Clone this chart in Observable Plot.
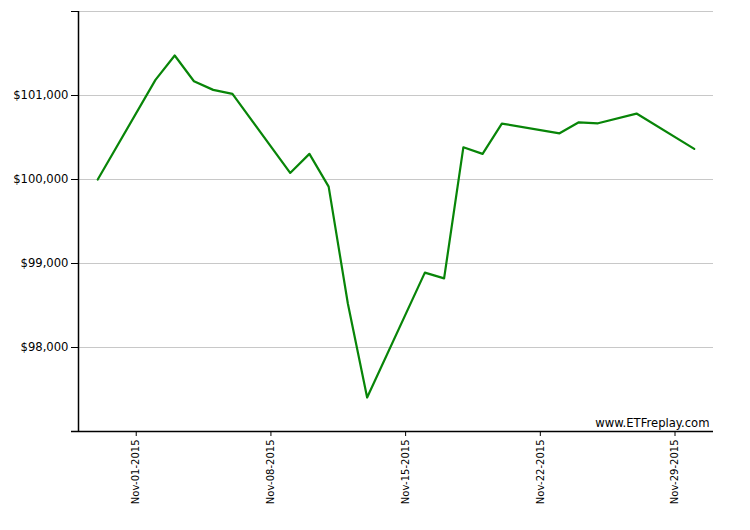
<!DOCTYPE html>
<html>
<head>
<meta charset="utf-8">
<script src="https://cdn.jsdelivr.net/npm/d3@7"></script>
<script src="https://cdn.jsdelivr.net/npm/@observablehq/plot@0.6"></script>
<style>
  html, body { margin: 0; padding: 0; background: #fff; }
</style>
</head>
<body>
<div id="chart"></div>
<script>
const dates = [
  "2015-10-30","2015-11-02","2015-11-03","2015-11-04","2015-11-05","2015-11-06",
  "2015-11-09","2015-11-10","2015-11-11","2015-11-12","2015-11-13",
  "2015-11-16","2015-11-17","2015-11-18","2015-11-19","2015-11-20",
  "2015-11-23","2015-11-24","2015-11-25","2015-11-27","2015-11-30"
];
const values = [
  100000, 101186, 101476, 101170, 101067, 101020,
  100078, 100305, 99915, 98521, 97405,
  98891, 98823, 100383, 100305, 100666,
  100550, 100681, 100669, 100785, 100364
];
const xTicks = ["2015-11-01","2015-11-08","2015-11-15","2015-11-22","2015-11-29"];
const yTicks = [98000, 99000, 100000, 101000, 102000];
const yLabeled = [98000, 99000, 100000, 101000];
const xDomain = ["2015-10-29","2015-12-01"];
const yDomain = [97000, 102000];
const watermark = ["www.ETFreplay.com"];

const data = dates.map((d, i) => ({date: new Date(d + "T00:00:00Z"), value: values[i]}));
const fmtDate = d3.utcFormat("%b-%d-%Y");
const fmtMoney = d3.format("$,.0f");

const chart = Plot.plot({
  width: 750,
  height: 530,
  marginLeft: 78,
  marginRight: 37,
  marginTop: 11,
  marginBottom: 99,
  style: {fontFamily: "DejaVu Sans, Verdana, sans-serif", fontSize: "11px", color: "#000", background: "#fff"},
  x: {type: "utc", domain: xDomain.map(d => new Date(d + "T00:00:00Z"))},
  y: {domain: yDomain},
  marks: [
    Plot.ruleY(yTicks, {stroke: "#c8c8c8", strokeWidth: 1}),
    Plot.axisY({
      ticks: yTicks,
      tickSize: 7,
      tickPadding: 3,
      tickFormat: d => yLabeled.includes(d) ? fmtMoney(d) : "",
      fontSize: 11.6,
      label: null,
      stroke: "#000"
    }),
    Plot.axisX({
      ticks: xTicks.map(d => new Date(d + "T00:00:00Z")),
      tickSize: 5,
      tickPadding: 3,
      tickRotate: -90,
      tickFormat: fmtDate,
      fontSize: 10,
      label: null,
      stroke: "#000"
    }),
    Plot.ruleX([new Date(xDomain[0] + "T00:00:00Z")], {y1: yDomain[0], y2: yDomain[1], stroke: "#000", strokeWidth: 1.5}),
    Plot.ruleY([yDomain[0]], {stroke: "#000", strokeWidth: 1.5, insetLeft: -7}),
    Plot.line(data, {x: "date", y: "value", stroke: "#088508", strokeWidth: 2.2}),
    Plot.text(watermark, {frameAnchor: "bottom-right", text: d => d, dx: -4, dy: -5, fontSize: 11.6, fill: "#000", textAnchor: "end", lineAnchor: "bottom"})
  ]
});
document.getElementById("chart").appendChild(chart);
</script>
</body>
</html>
